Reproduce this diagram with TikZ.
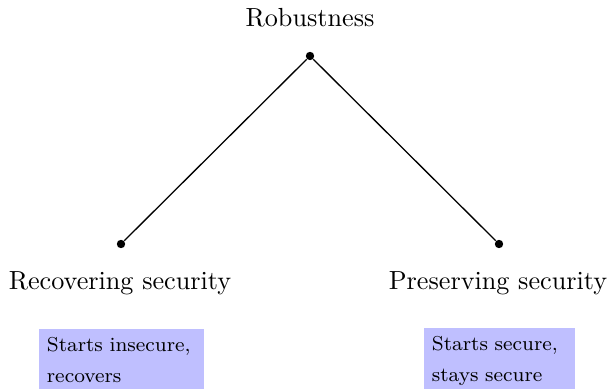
\documentclass[tikz,border=0pt]{standalone}
\begin{document}
\begin{tikzpicture}[x=0.382pt,y=-0.382pt,
  dot/.style={circle,fill=black,inner sep=0pt,minimum size=3.2pt},
  lbl/.style={anchor=base,inner sep=0pt},
  box/.style={fill=blue!25,font=\fontsize{7.7}{9}\selectfont,align=left,anchor=north west,
    text width=#1,inner xsep=3.2pt,inner ysep=3.2pt},
  edge/.style={line width=0.5pt}]
\useasboundingbox (0,0) rectangle (612,389);
\node[dot] (root) at (310,56) {};
\node[dot] (rec) at (121,244) {};
\node[dot] (pres) at (499,244) {};
\node[lbl] (rootl) at (310,27) {Robustness};
\node[lbl] (recl) at (120,290) {Recovering security};
\node[lbl] (presl) at (498,290) {Preserving security};
\draw[edge] (root) -- (rec);
\draw[edge] (root) -- (pres);
\node[box=57pt] (recb) at (38,328) {Starts insecure,\\[3.1pt] recovers};
\node[box=51.3pt] (presb) at (423,327) {Starts secure,\\[3.1pt] stays secure};
\end{tikzpicture}
\end{document}
